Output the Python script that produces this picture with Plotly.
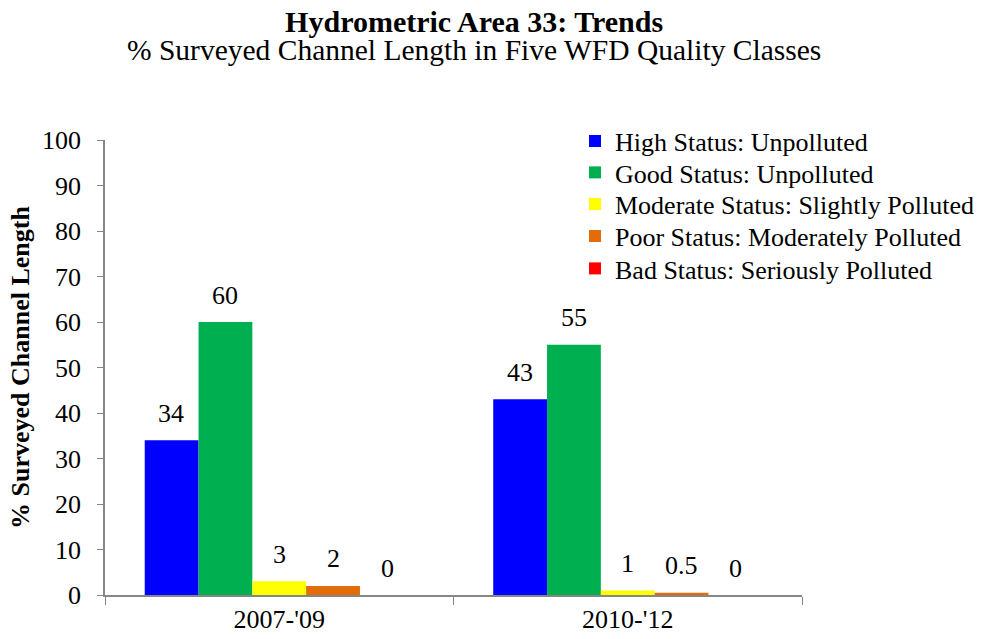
import plotly.graph_objects as go

categories = ["2007-'09", "2010-'12"]
series_names = [
    "High Status: Unpolluted",
    "Good Status: Unpolluted",
    "Moderate Status: Slightly Polluted",
    "Poor Status: Moderately Polluted",
    "Bad Status: Seriously Polluted",
]
high = [34, 43]
good = [60, 55]
moderate = [3, 1]
poor = [2, 0.5]
bad = [0, 0]
colors = ["#0000FF", "#00B050", "#FFFF00", "#E36C09", "#FF0000"]

values = [high, good, moderate, poor, bad]
FONT = "Liberation Serif, Times New Roman, serif"
FS = 26

fig = go.Figure()
legend_ids = ["legend", "legend2", "legend3", "legend4", "legend5"]
for name, vals, col, lg in zip(series_names, values, colors, legend_ids):
    fig.add_trace(go.Bar(x=categories, y=vals, name=name, legend=lg,
                         marker=dict(color=col, line=dict(width=0))))

# data labels
bar_px = 54
for i, vals in enumerate(values):
    for c, v in zip(categories, vals):
        fig.add_annotation(x=c, y=v, text=f"{v:g}", showarrow=False,
                           xshift=(i - 2) * bar_px, yshift=27,
                           font=dict(family=FONT, size=FS, color="black"))

# title + subtitle (one text block, tight line spacing)
title_text = ('<span style="font-size:30px"><b>Hydrometric Area 33: Trends</b></span><br>'
              '<span style="font-size:29.5px">% Surveyed Channel Length in Five WFD Quality Classes</span>')
fig.add_annotation(xref="paper", yref="paper", x=0.530, y=1.2306, xanchor="center", yanchor="middle",
                   text=title_text, showarrow=False,
                   font=dict(family=FONT, size=21.2, color="black"))

legend_rows_px = [141, 172.5, 204, 236, 268.5]
legend_layout = {}
for lg, py in zip(legend_ids, legend_rows_px):
    legend_layout[lg] = dict(xref="container", yref="container",
                             x=575 / 984, y=1 - py / 639, xanchor="left", yanchor="middle",
                             bgcolor="rgba(0,0,0,0)", itemwidth=30,
                             font=dict(family=FONT, size=FS, color="black"))

fig.update_layout(
    width=984, height=639,
    paper_bgcolor="white", plot_bgcolor="white",
    margin=dict(l=105, r=182, t=140, b=44, autoexpand=False),
    barmode="group", bargap=0.228, bargroupgap=0,
    font=dict(family=FONT, size=FS, color="black"),
    showlegend=True,
    xaxis=dict(showline=True, linecolor="#868686", linewidth=1.5, ticks="outside",
               tickson="boundaries", ticklen=8, tickcolor="#868686", automargin=False,
               tickfont=dict(family=FONT, size=FS), showgrid=False),
    yaxis=dict(range=[0, 100], dtick=10, showline=True, linecolor="#868686", linewidth=1.5,
               ticks="outside", ticklen=6, tickcolor="#868686", showgrid=False, automargin=False,
               zeroline=False, tickfont=dict(family=FONT, size=FS), ticklabelstandoff=11,
               title=dict(text="<b>% Surveyed Channel Length</b>", font=dict(family=FONT, size=FS),
                          standoff=5)),
    **legend_layout,
)

fig.write_html("out.html", config={"displayModeBar": False},
               post_script="document.body.style.margin='0';")
